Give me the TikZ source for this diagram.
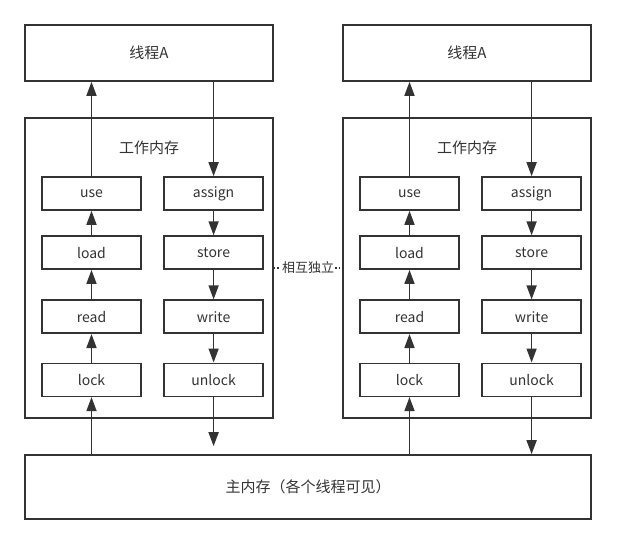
\documentclass[tikz,border=0pt]{standalone}
\usepackage{fontspec}
\setmainfont{Noto Sans CJK SC}
\usepackage{xcolor}
\usepackage{tikz}
\usetikzlibrary{arrows.meta, positioning}

\definecolor{linegray}{HTML}{333333}

\begin{document}
\begin{tikzpicture}[
    x=1pt, y=-1pt,
    frame/.style={draw=linegray, line width=1.6pt, fill=white, text=linegray,
                  font=\fontsize{15}{18}\selectfont},
    opbox/.style={draw=linegray, line width=1.6pt, fill=white, text=linegray,
                  minimum width=99pt, minimum height=33pt, inner sep=0pt,
                  font=\fontsize{14}{16}\selectfont},
    arrow/.style={-{Triangle[length=14pt, width=10pt]}, draw=linegray, fill=linegray,
                  line width=1.6pt},
    sep/.style={draw=linegray, line width=1.6pt, dotted}
]
\useasboundingbox (0,0) rectangle (617,544);

% left thread
\node[frame, minimum width=248pt, minimum height=56pt] (thdL) at (149,53) {线程A};
\node[frame, minimum width=248pt, minimum height=300pt] (wmL) at (149,268) {};
\node[text=linegray, font=\fontsize{15}{18}\selectfont] (wmtL) at (149,148) {工作内存};
\node[opbox] (useL) at (91.5,193.5) {use};
\node[opbox, below=24.5pt of useL] (loadL) {load};
\node[opbox, below=29.5pt of loadL] (readL) {read};
\node[opbox, below=28.5pt of readL] (lockL) {lock};
\node[opbox, right=21.5pt of useL] (assignL) {assign};
\node[opbox, right=21.5pt of loadL] (storeL) {store};
\node[opbox, right=21.5pt of readL] (writeL) {write};
\node[opbox, right=21.5pt of lockL] (unlockL) {unlock};

% right thread
\node[frame, minimum width=248pt, minimum height=56pt] (thdR) at (467,53) {线程A};
\node[frame, minimum width=248pt, minimum height=300pt] (wmR) at (467,268) {};
\node[text=linegray, font=\fontsize{15}{18}\selectfont] (wmtR) at (467,148) {工作内存};
\node[opbox] (useR) at (409.5,193.5) {use};
\node[opbox, below=24.5pt of useR] (loadR) {load};
\node[opbox, below=29.5pt of loadR] (readR) {read};
\node[opbox, below=28.5pt of readR] (lockR) {lock};
\node[opbox, right=21.5pt of useR] (assignR) {assign};
\node[opbox, right=21.5pt of loadR] (storeR) {store};
\node[opbox, right=21.5pt of readR] (writeR) {write};
\node[opbox, right=21.5pt of lockR] (unlockR) {unlock};

% main memory
\node[frame, minimum width=566pt, minimum height=64pt] (main) at (308,487)
    {主内存（各个线程可见）};

\draw[sep] (wmL.east) -- (wmR.west)
    node[midway, fill=white, inner sep=1pt, text=linegray,
         font=\fontsize{13}{15}\selectfont] (indep) {相互独立};

\draw[arrow] (useL.north) -- (useL.north |- thdL.south);
\draw[arrow] (assignL.north |- thdL.south) -- (assignL.north);
\draw[arrow] (loadL) -- (useL);
\draw[arrow] (readL) -- (loadL);
\draw[arrow] (lockL) -- (readL);
\draw[arrow] (assignL) -- (storeL);
\draw[arrow] (storeL) -- (writeL);
\draw[arrow] (writeL) -- (unlockL);
\draw[arrow] (lockL.south |- main.north) -- (lockL.south);
\draw[arrow, shorten >=8pt] (unlockL.south) -- (unlockL.south |- main.north);

\draw[arrow] (useR.north) -- (useR.north |- thdR.south);
\draw[arrow] (assignR.north |- thdR.south) -- (assignR.north);
\draw[arrow] (loadR) -- (useR);
\draw[arrow] (readR) -- (loadR);
\draw[arrow] (lockR) -- (readR);
\draw[arrow] (assignR) -- (storeR);
\draw[arrow] (storeR) -- (writeR);
\draw[arrow] (writeR) -- (unlockR);
\draw[arrow] (lockR.south |- main.north) -- (lockR.south);
\draw[arrow] (unlockR.south) -- (unlockR.south |- main.north);
\end{tikzpicture}
\end{document}
